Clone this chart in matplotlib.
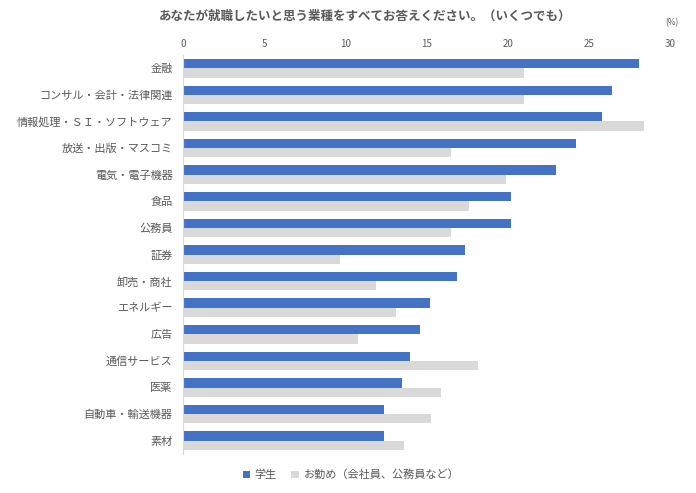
import matplotlib.pyplot as plt
import numpy as np

plt.rcParams['font.family'] = ['Noto Sans CJK JP', 'DejaVu Sans']

categories = ['金融', 'コンサル・会計・法律関連', '情報処理・ＳＩ・ソフトウェア', '放送・出版・マスコミ',
              '電気・電子機器', '食品', '公務員', '証券', '卸売・商社', 'エネルギー', '広告',
              '通信サービス', '医薬', '自動車・輸送機器', '素材']
students = [28.1, 26.4, 25.8, 24.2, 23.0, 20.2, 20.2, 17.4, 16.9, 15.2, 14.6, 14.0, 13.5, 12.4, 12.4]
workers = [21.0, 21.0, 28.4, 16.5, 19.9, 17.6, 16.5, 9.7, 11.9, 13.1, 10.8, 18.2, 15.9, 15.3, 13.6]
series_names = ['学生', 'お勤め（会社員、公務員など）']
xticks = [0, 5, 10, 15, 20, 25, 30]

text_col = '#595959'
fig = plt.figure(figsize=(6.96, 4.93), dpi=100)
ax = fig.add_axes([183/696, 1 - 454/493, (670-183)/696, (454-55)/493])

y = np.arange(len(categories))
h = 0.35
ax.barh(y - h/2, students, height=h, color='#4472C4', label=series_names[0])
ax.barh(y + h/2, workers, height=h, color='#D9D9D9', label=series_names[1])

ax.set_xlim(0, 30)
ax.set_ylim(len(categories) - 0.5, -0.5)
ax.set_yticks(y)
ax.set_yticklabels(categories, fontsize=8, color=text_col)
ax.set_xticks(xticks)
ax.xaxis.tick_top()
ax.tick_params(axis='x', length=0, labelsize=7, labelcolor=text_col, pad=4.5)
ax.tick_params(axis='y', length=0, pad=7.5)
for s in ['top', 'right', 'bottom']:
    ax.spines[s].set_visible(False)
ax.spines['left'].set_color('#D9D9D9')

fig.text(365/696, 1 - 16/493, 'あなたが就職したいと思う業種をすべてお答えください。（いくつでも）',
         ha='center', va='center', fontsize=9, fontweight='bold', color=text_col)
fig.text(672/696, 1 - 23/493, '(%)', ha='center', va='center', fontsize=6, color=text_col)

fig.legend(loc='center', bbox_to_anchor=(351/696, 1 - 475/493), ncol=2, frameon=False,
           fontsize=8, labelcolor=text_col, handlelength=0.7, handleheight=0.7,
           columnspacing=1.3, handletextpad=0.4)

fig.savefig('out.png', dpi=100)
